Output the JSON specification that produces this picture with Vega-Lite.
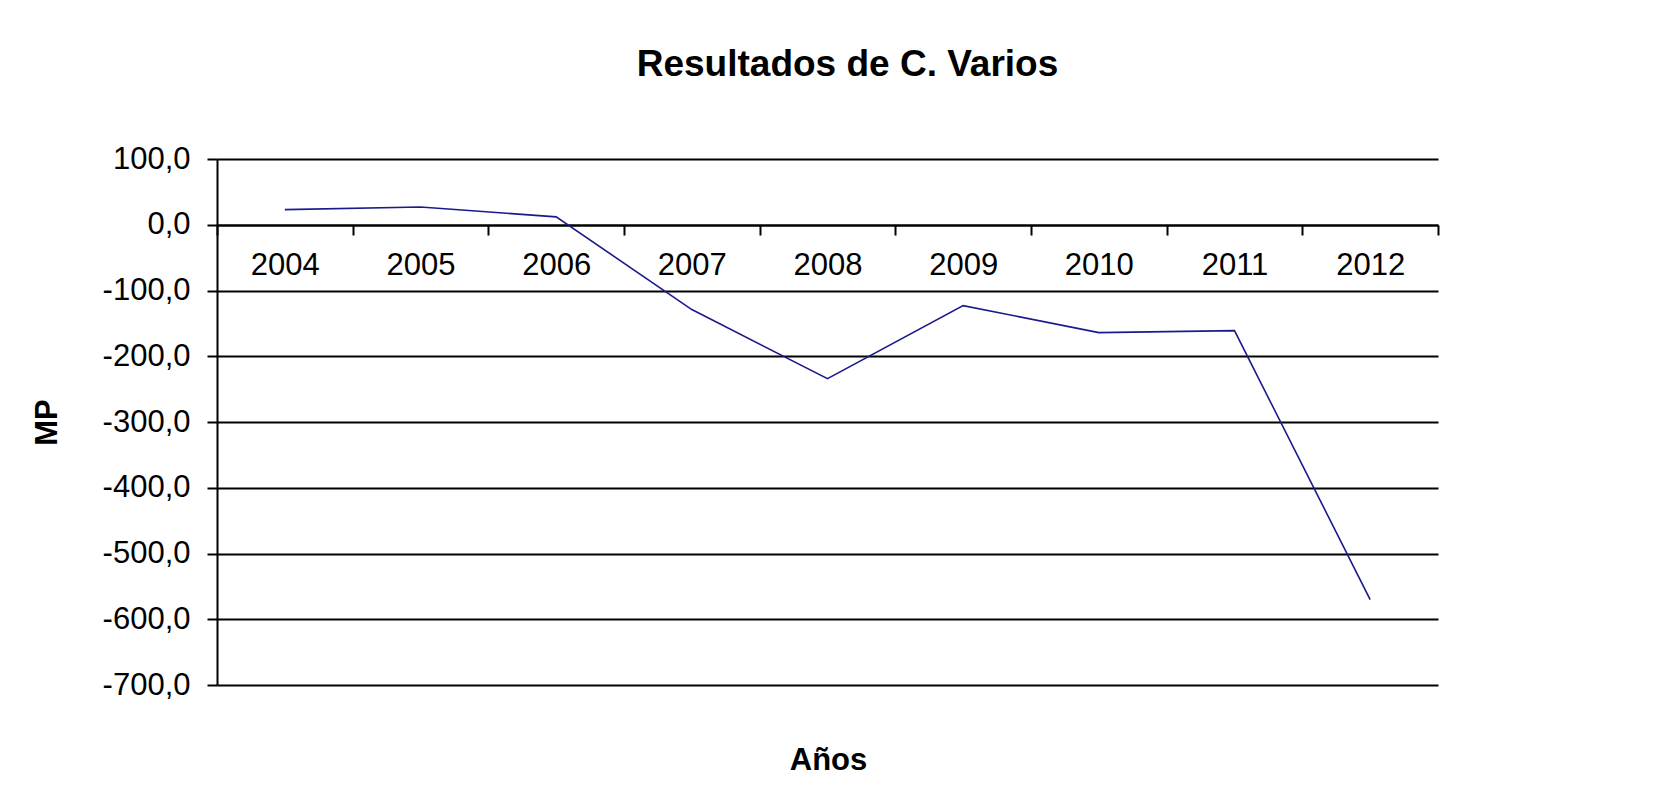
{
  "$schema": "https://vega.github.io/schema/vega-lite/v6.json",
  "width": 1221,
  "height": 526,
  "autosize": "none",
  "padding": {"left": 217, "top": 159, "right": 233, "bottom": 105},
  "background": "white",
  "title": {
    "text": "Resultados de C. Varios",
    "font": "Liberation Sans",
    "fontSize": 37,
    "fontWeight": "bold",
    "color": "#000000",
    "anchor": "middle",
    "frame": "group",
    "dx": 20,
    "baseline": "alphabetic",
    "offset": 30
  },
  "data": {
    "values": [
      {"year": "2004", "value": 23},
      {"year": "2005", "value": 27},
      {"year": "2006", "value": 12},
      {"year": "2007", "value": -129},
      {"year": "2008", "value": -234},
      {"year": "2009", "value": -123},
      {"year": "2010", "value": -164},
      {"year": "2011", "value": -161},
      {"year": "2012", "value": -570}
    ]
  },
  "mark": {"type": "line", "color": "#1a1a8c", "strokeWidth": 1.6},
  "encoding": {
    "x": {
      "field": "year",
      "type": "ordinal",
      "bandPosition": 0.5,
      "scale": {"type": "band", "paddingInner": 0, "paddingOuter": 0},
      "axis": {
        "title": "Años",
        "orient": "bottom",
        "offset": -460,
        "labelAngle": 0,
        "labelFont": "Liberation Sans",
        "labelFontSize": 31,
        "labelColor": "#000000",
        "labelPadding": 15,
        "ticks": true,
        "tickBand": "extent",
        "tickSize": 10,
        "tickColor": "#000000",
        "tickWidth": 2,
        "domain": true,
        "domainColor": "#000000",
        "domainWidth": 2,
        "grid": false,
        "titleFont": "Liberation Sans",
        "titleFontSize": 31,
        "titleFontWeight": "bold",
        "titleColor": "#000000",
        "titleX": 611,
        "titleY": 544,
        "titleAlign": "center",
        "titleBaseline": "alphabetic"
      }
    },
    "y": {
      "field": "value",
      "type": "quantitative",
      "scale": {"domain": [-700, 100], "nice": false, "zero": false},
      "axis": {
        "title": "MP",
        "values": [-700, -600, -500, -400, -300, -200, -100, 0, 100],
        "labelExpr": "replace(replace(format(datum.value, '.1f'), '.', ','), '\u2212', '-')",
        "labelFont": "Liberation Sans",
        "labelFontSize": 31,
        "labelColor": "#000000",
        "labelPadding": 17,
        "tickSize": 10,
        "tickColor": "#000000",
        "tickWidth": 2,
        "grid": true,
        "gridColor": "#000000",
        "gridWidth": 2,
        "domain": true,
        "domainColor": "#000000",
        "domainWidth": 2,
        "titleFont": "Liberation Sans",
        "titleFontSize": 31,
        "titleFontWeight": "bold",
        "titleColor": "#000000",
        "titleX": -170,
        "titleY": 263,
        "titleAngle": -90,
        "titleAlign": "center",
        "titleBaseline": "middle"
      }
    }
  },
  "config": {"view": {"stroke": null}}
}
